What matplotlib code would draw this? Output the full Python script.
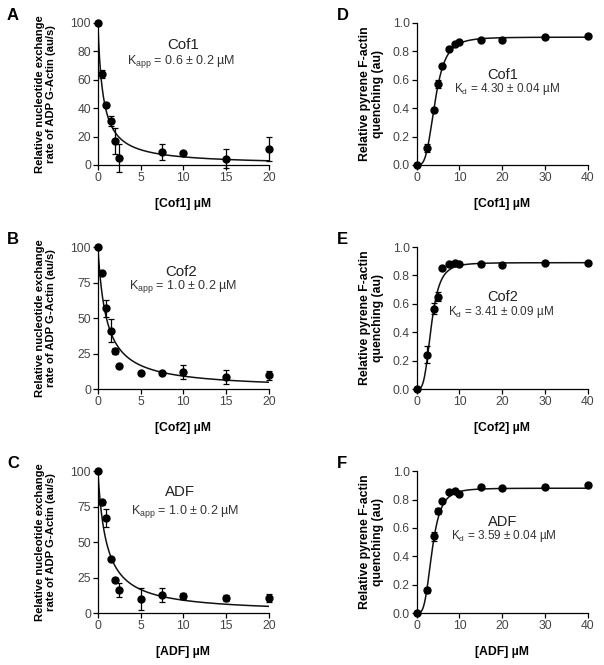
import numpy as np
import matplotlib
matplotlib.use("Agg")
import matplotlib.pyplot as plt

plt.rcParams["font.family"] = ["Liberation Sans", "DejaVu Sans"]
plt.rcParams["mathtext.fontset"] = "custom"
plt.rcParams["mathtext.rm"] = "Liberation Sans"
plt.rcParams["mathtext.it"] = "Liberation Sans"

# --- nucleotide exchange (left column) ---
conc_cof1 = [0, 0.5, 1, 1.5, 2, 2.5, 7.5, 10, 15, 20]
rate_cof1 = [100, 64, 42.5, 31, 17, 5, 9.2, 8.2, 4.5, 11]
err_cof1 = [0, 3, 1, 3.5, 9, 10, 5.5, 1, 7, 8.5]

conc_cof2 = [0, 0.5, 1, 1.5, 2, 2.5, 5, 7.5, 10, 15, 20]
rate_cof2 = [100, 82, 57, 41, 27, 16.5, 11, 11.5, 12, 8.5, 9.6]
err_cof2 = [0, 1, 6, 8, 2, 1, 1, 1, 5, 5, 3]

conc_adf = [0, 0.5, 1, 1.5, 2, 2.5, 5, 7.5, 10, 15, 20]
rate_adf = [100, 78, 67, 38, 23.5, 16.5, 10, 12.5, 12, 10.6, 10.8]
err_adf = [0, 2, 6, 1, 1.5, 5, 8, 5, 2, 2, 3]

kapp = [0.6, 1.0, 1.0]

# --- pyrene quenching (right column) ---
conc_q = [0, 2.5, 4, 5, 6, 7.5, 9, 10, 15, 20, 30, 40]
q_cof1 = [0, 0.12, 0.385, 0.57, 0.70, 0.815, 0.855, 0.865, 0.88, 0.877, 0.90, 0.91]
qerr_cof1 = [0, 0.03, 0.01, 0.03, 0.01, 0.01, 0.01, 0.01, 0.01, 0.01, 0.01, 0.01]
q_cof2 = [0, 0.24, 0.565, 0.65, 0.85, 0.878, 0.885, 0.882, 0.88, 0.873, 0.889, 0.885]
qerr_cof2 = [0, 0.06, 0.04, 0.03, 0.01, 0.01, 0.01, 0.01, 0.01, 0.01, 0.01, 0.01]
q_adf = [0, 0.16, 0.54, 0.72, 0.79, 0.85, 0.86, 0.84, 0.89, 0.88, 0.89, 0.90]
qerr_adf = [0, 0.02, 0.03, 0.02, 0.01, 0.01, 0.01, 0.01, 0.01, 0.01, 0.01, 0.01]

kd = [4.30, 3.41, 3.59]
bmax = [0.90, 0.89, 0.88]
hill = [3.5, 3.5, 3.5]

names = ["Cof1", "Cof2", "ADF"]
left_letters = ["A", "B", "C"]
right_letters = ["D", "E", "F"]
kapp_txt = ["0.6 ± 0.2", "1.0 ± 0.2", "1.0 ± 0.2"]
kd_txt = ["4.30 ± 0.04", "3.41 ± 0.09", "3.59 ± 0.04"]

left_data = [(conc_cof1, rate_cof1, err_cof1),
             (conc_cof2, rate_cof2, err_cof2),
             (conc_adf, rate_adf, err_adf)]
right_data = [(q_cof1, qerr_cof1), (q_cof2, qerr_cof2), (q_adf, qerr_adf)]

left_yticks = [[0, 20, 40, 60, 80, 100], [0, 25, 50, 75, 100], [0, 25, 50, 75, 100]]

# text positions (axes fraction)
name_pos_l = [(0.50, 0.845), (0.49, 0.824), (0.48, 0.85)]
k_pos_l = [(0.49, 0.725), (0.50, 0.72), (0.51, 0.716)]
name_pos_r = [(0.50, 0.634), (0.50, 0.648), (0.50, 0.645)]
k_pos_r = [(0.53, 0.535), (0.49, 0.542), (0.51, 0.54)]

rows_bottom = [0.752, 0.415, 0.078]
ax_h = 0.2135
ax_w = 0.283

fig = plt.figure(figsize=(6.04, 6.65), dpi=100)


def style(ax):
    for s in ["top", "right"]:
        ax.spines[s].set_visible(False)
    for s in ["left", "bottom"]:
        ax.spines[s].set_linewidth(0.9)
    ax.tick_params(direction="out", length=3.5, width=0.9, labelsize=8.7,
                   labelcolor="#444444", pad=1.5)


for i in range(3):
    # left panel
    ax = fig.add_axes([0.162, rows_bottom[i], ax_w, ax_h])
    x, y, e = left_data[i]
    xx = np.linspace(0, 20, 400)
    ax.plot(xx, 100 * kapp[i] / (kapp[i] + xx), color="#111111", lw=1.1)
    ax.errorbar(x, y, yerr=e, fmt="o", color="black", ms=5, capsize=2.2,
                elinewidth=0.9, capthick=0.9, clip_on=False, zorder=3)
    ax.set_xlim(0, 20)
    ax.set_ylim(0, 100)
    ax.set_xticks([0, 5, 10, 15, 20])
    ax.set_yticks(left_yticks[i])
    style(ax)
    ax.set_ylabel("Relative nucleotide exchange\nrate of ADP G-Actin (au/s)",
                  fontsize=8.1, fontweight="bold", linespacing=1.1)
    ax.yaxis.set_label_coords(-0.245, 0.5)
    ax.set_xlabel(f"[{names[i]}] µM", fontsize=8.8, fontweight="bold")
    ax.xaxis.set_label_coords(0.5, -0.23)
    ax.text(*name_pos_l[i], names[i], transform=ax.transAxes, ha="center",
            va="center", fontsize=10.8, color="#222222")
    ax.text(*k_pos_l[i], r"K$_\mathregular{app}$ = " + kapp_txt[i] + " µM",
            transform=ax.transAxes, ha="center", va="center", fontsize=9.0,
            color="#333333")
    fig.text(7 / 604, 1 - 15 / 665 - (rows_bottom[0] - rows_bottom[i]),
             left_letters[i], fontsize=12, fontweight="bold", va="center")

    # right panel
    ax = fig.add_axes([0.690, rows_bottom[i], ax_w, ax_h])
    q, qe = right_data[i]
    xx = np.linspace(0, 40, 600)
    n = hill[i]
    ax.plot(xx, bmax[i] * xx ** n / (kd[i] ** n + xx ** n), color="#111111", lw=1.1)
    ax.errorbar(conc_q, q, yerr=qe, fmt="o", color="black", ms=5, capsize=2.2,
                elinewidth=0.9, capthick=0.9, clip_on=False, zorder=3)
    ax.set_xlim(0, 40)
    ax.set_ylim(0, 1.0)
    ax.set_xticks([0, 10, 20, 30, 40])
    ax.set_yticks([0, 0.2, 0.4, 0.6, 0.8, 1.0])
    ax.set_yticklabels(["0.0", "0.2", "0.4", "0.6", "0.8", "1.0"])
    style(ax)
    ax.set_ylabel("Relative pyrene F-actin\nquenching (au)",
                  fontsize=8.8, fontweight="bold", linespacing=1.1)
    ax.yaxis.set_label_coords(-0.19, 0.5)
    ax.set_xlabel(f"[{names[i]}] µM", fontsize=8.8, fontweight="bold")
    ax.xaxis.set_label_coords(0.5, -0.23)
    ax.text(*name_pos_r[i], names[i], transform=ax.transAxes, ha="center",
            va="center", fontsize=10.5, color="#222222")
    ax.text(*k_pos_r[i], r"K$_\mathregular{d}$ = " + kd_txt[i] + " µM",
            transform=ax.transAxes, ha="center", va="center", fontsize=8.5,
            color="#333333")
    fig.text(337 / 604, 1 - 15 / 665 - (rows_bottom[0] - rows_bottom[i]),
             right_letters[i], fontsize=12, fontweight="bold", va="center")

fig.savefig("out.png", dpi=100)
